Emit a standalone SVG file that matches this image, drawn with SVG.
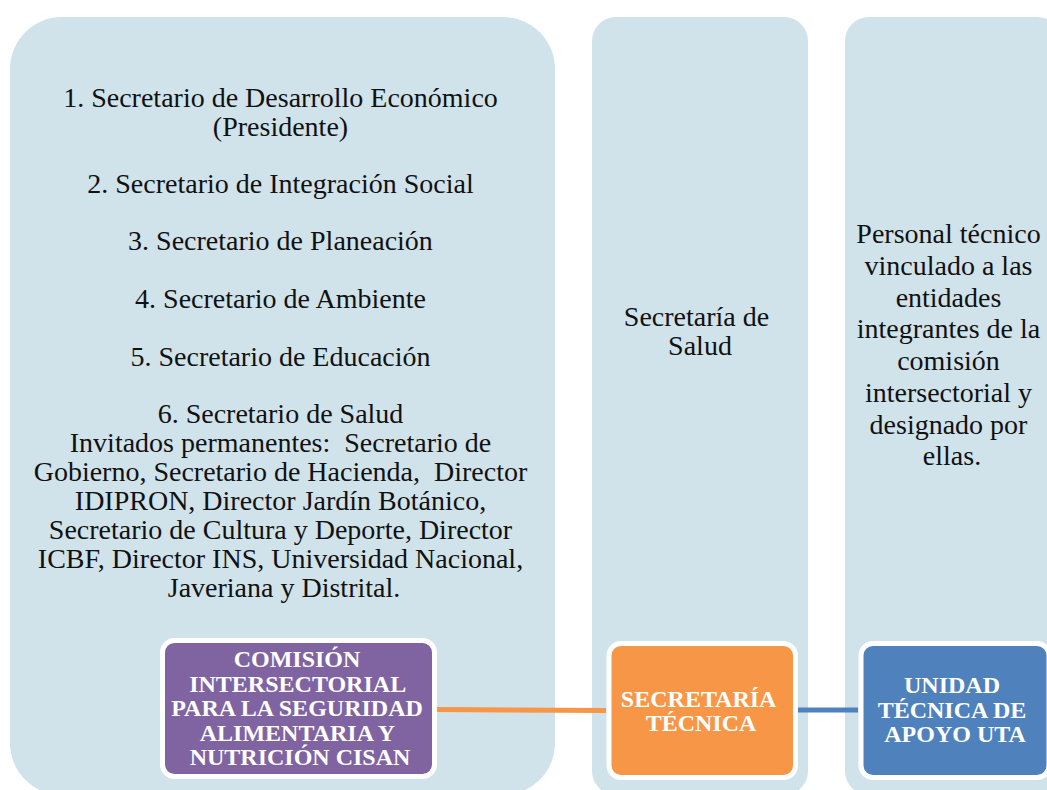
<svg xmlns="http://www.w3.org/2000/svg" width="1047" height="790" viewBox="0 0 1047 790">
  <style>
    .panel { fill: #D0E2EA; }
    .txt { font-family: "Liberation Serif", "Times New Roman", serif; font-size: 28px; fill: #111111; text-anchor: middle; }
    .btxt { font-family: "Liberation Serif", "Times New Roman", serif; font-size: 24px; font-weight: bold; fill: #FFFFFF; text-anchor: middle; }
    .box { stroke: #FFFFFF; stroke-width: 5; }
    .conn { fill: none; stroke-width: 5; }
  </style>
  <rect width="1047" height="790" fill="#FFFFFF"/>

  <g id="panel-cisan">
    <rect class="panel" x="10" y="17" width="545" height="778" rx="52"/>
    <text class="txt">
      <tspan x="284" y="107">1. Secretario de Desarrollo Económico</tspan>
      <tspan x="284" y="136">(Presidente)</tspan>
      <tspan x="284" y="193">2. Secretario de Integración Social</tspan>
      <tspan x="284" y="250">3. Secretario de Planeación</tspan>
      <tspan x="284" y="308">4. Secretario de Ambiente</tspan>
      <tspan x="284" y="366">5. Secretario de Educación</tspan>
      <tspan x="284" y="423">6. Secretario de Salud</tspan>
      <tspan x="284" y="452" xml:space="preserve">Invitados permanentes:  Secretario de</tspan>
      <tspan x="284" y="481" xml:space="preserve">Gobierno, Secretario de Hacienda,  Director</tspan>
      <tspan x="284" y="510">IDIPRON, Director Jardín Botánico,</tspan>
      <tspan x="284" y="539">Secretario de Cultura y Deporte, Director</tspan>
      <tspan x="284" y="568">ICBF, Director INS, Universidad Nacional,</tspan>
      <tspan x="284" y="597">Javeriana y Distrital.</tspan>
    </text>
  </g>

  <g id="panel-secretaria">
    <rect class="panel" x="592" y="17" width="216" height="778" rx="24"/>
    <text class="txt">
      <tspan x="700" y="326">Secretaría de</tspan>
      <tspan x="700" y="355">Salud</tspan>
    </text>
  </g>

  <g id="panel-uta">
    <rect class="panel" x="845" y="17" width="216" height="778" rx="24"/>
    <text class="txt">
      <tspan x="952" y="243">Personal técnico</tspan>
      <tspan x="952" y="275">vinculado a las</tspan>
      <tspan x="952" y="307">entidades</tspan>
      <tspan x="952" y="338">integrantes de la</tspan>
      <tspan x="952" y="370">comisión</tspan>
      <tspan x="952" y="402">intersectorial y</tspan>
      <tspan x="952" y="434">designado por</tspan>
      <tspan x="952" y="465">ellas.</tspan>
    </text>
  </g>

  <g id="connectors">
    <line class="conn" x1="437" y1="709.5" x2="606" y2="710.5" stroke="#F79646"/>
    <line class="conn" x1="798" y1="710" x2="858" y2="710" stroke="#4F81BD"/>
  </g>

  <g id="node-cisan">
    <rect class="box" x="162.5" y="640.5" width="272" height="136" rx="12" fill="#8064A2"/>
    <text class="btxt">
      <tspan x="300" y="667">COMISIÓN</tspan>
      <tspan x="300" y="691.5">INTERSECTORIAL</tspan>
      <tspan x="300" y="716">PARA LA SEGURIDAD</tspan>
      <tspan x="300" y="740.5">ALIMENTARIA Y</tspan>
      <tspan x="300" y="765">NUTRICIÓN CISAN</tspan>
    </text>
  </g>

  <g id="node-secretaria-tecnica">
    <rect class="box" x="609" y="643.5" width="186.5" height="134" rx="12" fill="#F79646"/>
    <text class="btxt">
      <tspan x="701" y="707">SECRETARÍA</tspan>
      <tspan x="701" y="731">TÉCNICA</tspan>
    </text>
  </g>

  <g id="node-uta">
    <rect class="box" x="861" y="643.5" width="188" height="134" rx="12" fill="#4F81BD"/>
    <text class="btxt">
      <tspan x="955" y="693">UNIDAD</tspan>
      <tspan x="955" y="718">TÉCNICA DE</tspan>
      <tspan x="955" y="742">APOYO UTA</tspan>
    </text>
  </g>
</svg>
